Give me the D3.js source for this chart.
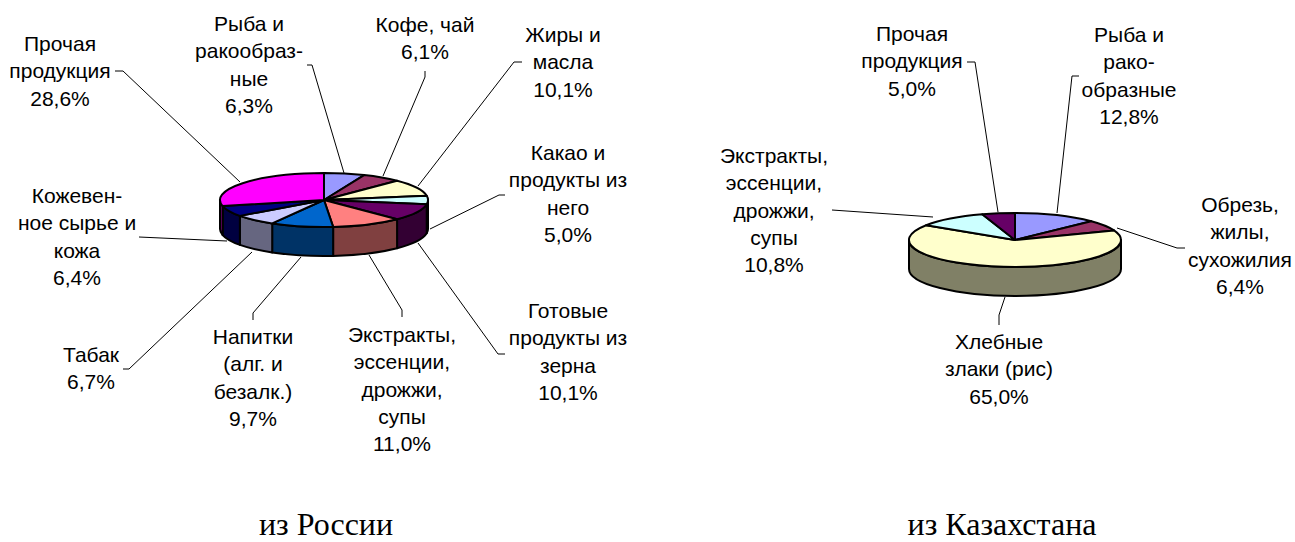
<!DOCTYPE html>
<html lang="ru">
<head>
<meta charset="utf-8">
<script src="https://cdn.jsdelivr.net/npm/d3@7/dist/d3.min.js"></script>
<style>
html,body{margin:0;padding:0;background:#fff;}
svg{display:block;}
.lbl{font-family:"Liberation Sans",Arial,sans-serif;font-size:21px;fill:#000;text-anchor:middle;}
.cap{font-family:"Liberation Serif","Times New Roman",serif;font-size:32px;fill:#000;text-anchor:middle;}
</style>
</head>
<body>
<svg id="chart" width="1295" height="542" viewBox="0 0 1295 542"></svg>
<script>
// ---- data: exports from Russia (clockwise from 12 o'clock)
const ruCategories = [
  ["Рыба и","ракообраз-","ные"],
  ["Кофе, чай"],
  ["Жиры и","масла"],
  ["Какао и","продукты из","него"],
  ["Готовые","продукты из","зерна"],
  ["Экстракты,","эссенции,","дрожжи,","супы"],
  ["Напитки","(алг. и","безалк.)"],
  ["Табак"],
  ["Кожевен-","ное сырье и","кожа"],
  ["Прочая","продукция"]
];
const ruValues = [6.3,6.1,10.1,5.0,10.1,11.0,9.7,6.7,6.4,28.6];
const ruTopColors = ["#9999FF","#993366","#FFFFCC","#CCFFFF","#660066","#FF8080","#0066CC","#CCCCFF","#000080","#FF00FF"];
const ruWallColors = ["#4D4D80","#4D1A33","#808066","#668080","#330033","#804040","#003366","#666680","#000040","#800080"];

// ---- data: exports from Kazakhstan
const kzCategories = [
  ["Рыба и","рако-","образные"],
  ["Обрезь,","жилы,","сухожилия"],
  ["Хлебные","злаки (рис)"],
  ["Экстракты,","эссенции,","дрожжи,","супы"],
  ["Прочая","продукция"]
];
const kzValues = [12.8,6.4,65.0,10.8,5.0];
const kzTopColors = ["#9999FF","#993366","#FFFFCC","#CCFFFF","#660066"];
const kzWallColors = ["#4D4D80","#4D1A33","#808066","#668080","#330033"];

// ---- layout (separate from the data)
const ruPie = {cx:324, cy:200, rx:104, ry:27, depth:29};
const kzPie = {cx:1015, cy:240, rx:106, ry:27, depth:29};
const ruLabelPos = [[249,31],[425,32],[563,42],[568,160],[568,318],[402,342],[253,344],[91,362],[77,203],[60,51]];
const kzLabelPos = [[1129,42],[1240,212],[999,349],[774,163],[912,41]];
const ruLeaders = [
  [[307,65],[312,65],[344,173]],
  [[425,71],[425,77],[383,176]],
  [[522,62],[514,62],[418,186]],
  [[505,195],[499,195],[430,229]],
  [[505,354],[498,354],[418,243]],
  [[402,317],[402,310],[369,255]],
  [[253,320],[253,313],[301,257]],
  [[123,369],[129,369],[252,252]],
  [[139,237],[227,241]],
  [[115,71],[123,71],[240,182]]
];
const kzLeaders = [
  [[1079,76],[1072,76],[1057,213]],
  [[1185,248],[1177,248],[1117,228]],
  [[999,325],[999,315],[1005,297]],
  [[832,210],[933,217]],
  [[967,62],[975,62],[998,212]]
];
const lineHeight = 27.3;

const svg = d3.select("#chart");
const pie = d3.pie().sort(null).value(d => d);
const leaderLine = d3.line();
const fmt = v => d3.format(".1f")(v).replace(".", ",") + "%";

function drawPie(geo, cats, values, topColors, wallColors, labelPos, leaders){
  const arcs = pie(values);
  const g = svg.append("g");

  // leader lines
  g.selectAll("path.leader").data(leaders).join("path")
    .attr("class","leader").attr("d", leaderLine)
    .attr("fill","none").attr("stroke","#000").attr("stroke-width",1);

  const px = a => geo.cx + geo.rx * Math.sin(a);
  const py = a => geo.cy - geo.ry * Math.cos(a);

  // front walls: only the part of each slice between 90° and 270° is visible
  const lo = Math.PI/2, hi = 3*Math.PI/2;
  g.selectAll("path.wall").data(arcs.filter(d => d.endAngle > lo && d.startAngle < hi)).join("path")
    .attr("class","wall")
    .attr("d", d => {
      const a0 = Math.max(d.startAngle, lo), a1 = Math.min(d.endAngle, hi);
      const x0 = px(a0), y0 = py(a0), x1 = px(a1), y1 = py(a1);
      return `M${x0},${y0}A${geo.rx},${geo.ry} 0 0 1 ${x1},${y1}` +
             `L${x1},${y1+geo.depth}A${geo.rx},${geo.ry} 0 0 0 ${x0},${y0+geo.depth}Z`;
    })
    .attr("fill", d => wallColors[d.index])
    .attr("stroke","#000").attr("stroke-width",2).attr("stroke-linejoin","round");

  // top face: d3.arc on a unit radius, squashed into the ellipse
  const arc = d3.arc().innerRadius(0).outerRadius(1);
  g.selectAll("path.top").data(arcs).join("path")
    .attr("class","top")
    .attr("transform",`translate(${geo.cx},${geo.cy}) scale(${geo.rx},${geo.ry})`)
    .attr("d", arc)
    .attr("fill", d => topColors[d.index])
    .attr("vector-effect","non-scaling-stroke")
    .attr("stroke","#000").attr("stroke-width",2).attr("stroke-linejoin","round");

  // labels
  const t = g.selectAll("text.lbl").data(arcs).join("text")
    .attr("class","lbl")
    .attr("transform", d => `translate(${labelPos[d.index][0]},${labelPos[d.index][1]})`);
  t.selectAll("tspan").data(d => cats[d.index].concat(fmt(d.value))).join("tspan")
    .attr("x",0).attr("y",(d,i) => i*lineHeight).text(d => d);
}

drawPie(ruPie, ruCategories, ruValues, ruTopColors, ruWallColors, ruLabelPos, ruLeaders);
drawPie(kzPie, kzCategories, kzValues, kzTopColors, kzWallColors, kzLabelPos, kzLeaders);

svg.append("text").attr("class","cap").attr("x",326).attr("y",535).text("из России");
svg.append("text").attr("class","cap").attr("x",1002).attr("y",535).text("из Казахстана");
</script>
</body>
</html>
